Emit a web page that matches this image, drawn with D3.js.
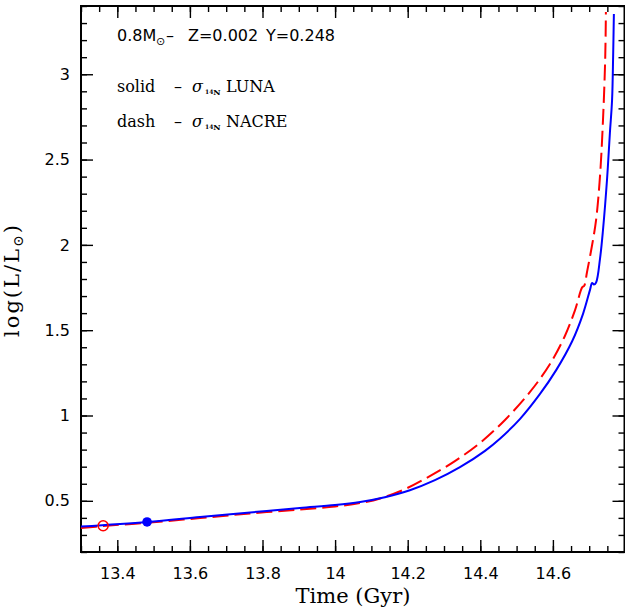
<!DOCTYPE html>
<html>
<head>
<meta charset="utf-8">
<script src="https://cdn.jsdelivr.net/npm/d3@7/dist/d3.min.js"></script>
<style>
  html, body { margin: 0; padding: 0; background: #fff; }
  svg { display: block; }
</style>
</head>
<body>
<svg id="chart" width="625" height="612"></svg>
<script>
// ---- Data ----
// LUNA (solid, blue): time in Gyr, log(L/Lsun)
const lunaTime = [13.300, 13.482, 13.628, 13.766, 13.903, 14.000, 14.069, 14.137, 14.206, 14.275,
                  14.344, 14.413, 14.454, 14.509, 14.564, 14.609, 14.653, 14.683, 14.702, 14.708,
                  14.713, 14.719, 14.730, 14.738, 14.749, 14.757, 14.763, 14.766, 14.768];
const lunaLogL = [0.349, 0.376, 0.405, 0.432, 0.458, 0.475, 0.493, 0.521, 0.562, 0.621,
                  0.697, 0.793, 0.864, 0.979, 1.125, 1.266, 1.435, 1.596, 1.735, 1.777,
                  1.768, 1.780, 1.923, 2.087, 2.380, 2.656, 2.849, 3.113, 3.353];
// NACRE (dashed, red)
const nacreTime = [13.300, 13.361, 13.490, 13.628, 13.766, 13.903, 14.000, 14.069, 14.124, 14.193,
                   14.261, 14.330, 14.399, 14.468, 14.537, 14.592, 14.633, 14.661, 14.681, 14.686,
                   14.694, 14.708, 14.719, 14.730, 14.738, 14.744, 14.746];
const nacreLogL = [0.341, 0.352, 0.373, 0.399, 0.426, 0.449, 0.467, 0.487, 0.514, 0.569,
                   0.645, 0.733, 0.839, 0.974, 1.138, 1.302, 1.466, 1.618, 1.752, 1.759,
                   1.841, 1.999, 2.146, 2.410, 2.732, 3.084, 3.365];
// Markers
const lunaMarker = [13.482, 0.376];   // filled blue circle
const nacreMarker = [13.361, 0.354];  // open red circle

// Axes
const xDomain = [13.3, 14.8];
const yDomain = [0.2, 3.4];
const xTicks = [13.4, 13.6, 13.8, 14, 14.2, 14.4, 14.6];
const yTicks = [0.5, 1, 1.5, 2, 2.5, 3];
const xMinorStep = 0.05;
const yMinorStep = 0.1;

// ---- Layout ----
const L = 81, R = 625.5, T = 6, B = 552;
const svg = d3.select("#chart");
const x = d3.scaleLinear().domain(xDomain).range([L, R]);
const y = d3.scaleLinear().domain(yDomain).range([B, T]);

const xMinor = d3.range(0, Math.round((xDomain[1] - xDomain[0]) / xMinorStep) + 1)
  .map(i => +(xDomain[0] + i * xMinorStep).toFixed(4));
const yMinor = d3.range(0, Math.round((yDomain[1] - yDomain[0]) / yMinorStep) + 1)
  .map(i => +(yDomain[0] + i * yMinorStep).toFixed(4));

const tickFont = "'DejaVu Sans', sans-serif";
const serif = "'DejaVu Serif', 'Liberation Serif', serif";

function styleAxis(g) {
  g.select(".domain").remove();
  g.selectAll(".tick line").attr("stroke", "#000").attr("stroke-width", 1.4);
  g.selectAll(".tick text").attr("fill", "#000").attr("font-family", tickFont).attr("font-size", 16);
}

// Bottom
svg.append("g").attr("transform", `translate(0,${B})`)
  .call(d3.axisBottom(x).tickValues(xMinor).tickSize(-6).tickFormat(""))
  .call(styleAxis);
svg.append("g").attr("transform", `translate(0,${B})`)
  .call(d3.axisBottom(x).tickValues(xTicks).tickSize(-12).tickPadding(16).tickFormat(d => String(d)))
  .call(styleAxis);
// Top
svg.append("g").attr("transform", `translate(0,${T})`)
  .call(d3.axisTop(x).tickValues(xMinor).tickSize(-6).tickFormat(""))
  .call(styleAxis);
svg.append("g").attr("transform", `translate(0,${T})`)
  .call(d3.axisTop(x).tickValues(xTicks).tickSize(-12).tickFormat(""))
  .call(styleAxis);
// Left
svg.append("g").attr("transform", `translate(${L},0)`)
  .call(d3.axisLeft(y).tickValues(yMinor).tickSize(-6).tickFormat(""))
  .call(styleAxis);
svg.append("g").attr("transform", `translate(${L},0)`)
  .call(d3.axisLeft(y).tickValues(yTicks).tickSize(-12).tickPadding(11).tickFormat(d => String(d)))
  .call(styleAxis);
// Right
svg.append("g").attr("transform", `translate(${R - 1},0)`)
  .call(d3.axisRight(y).tickValues(yMinor).tickSize(-6).tickFormat(""))
  .call(styleAxis);
svg.append("g").attr("transform", `translate(${R - 1},0)`)
  .call(d3.axisRight(y).tickValues(yTicks).tickSize(-12).tickFormat(""))
  .call(styleAxis);

// Frame
svg.append("rect").attr("x", L).attr("y", T).attr("width", R - 1 - L).attr("height", B - T)
  .attr("fill", "none").attr("stroke", "#000").attr("stroke-width", 2);

// ---- Curves ----
const line = d3.line().x(d => x(d[0])).y(d => y(d[1])).curve(d3.curveCatmullRom.alpha(0.5));
const luna = lunaTime.map((t, i) => [t, lunaLogL[i]]);
const nacre = nacreTime.map((t, i) => [t, nacreLogL[i]]);

const plot = svg.append("g");
plot.append("path").datum(nacre).attr("d", line)
  .attr("fill", "none").attr("stroke", "#ff0000").attr("stroke-width", 2)
  .attr("stroke-dasharray", "16,6");
plot.append("path").datum(luna).attr("d", line)
  .attr("fill", "none").attr("stroke", "#0000ff").attr("stroke-width", 2);

plot.append("circle").attr("cx", x(nacreMarker[0])).attr("cy", y(nacreMarker[1])).attr("r", 5)
  .attr("fill", "none").attr("stroke", "#ff0000").attr("stroke-width", 1.5);
plot.append("circle").attr("cx", x(lunaMarker[0])).attr("cy", y(lunaMarker[1])).attr("r", 4.8)
  .attr("fill", "#0000ff");

// ---- Axis titles ----
svg.append("text").attr("x", 353).attr("y", 603).attr("text-anchor", "middle")
  .attr("font-family", serif).attr("font-size", 21).attr("fill", "#000")
  .text("Time (Gyr)");

const yt = svg.append("text").attr("transform", "translate(19,280) rotate(-90)")
  .attr("text-anchor", "middle").attr("font-family", serif).attr("font-size", 21)
  .attr("letter-spacing", 2).attr("fill", "#000");
yt.append("tspan").text("log(L/L");
yt.append("tspan").attr("font-size", 14).attr("dy", 4).text("\u2299");
yt.append("tspan").attr("dy", -4).text(")");

// ---- Legend ----
const lg = svg.append("g").attr("fill", "#000");
const t1 = lg.append("text").attr("y", 41).attr("font-family", tickFont).attr("font-size", 16);
t1.append("tspan").attr("x", 117).text("0.8M");
t1.append("tspan").attr("x", 156).attr("dy", 4).attr("font-size", 11).text("\u2299");
t1.append("tspan").attr("x", 166).attr("dy", -4).text("\u2013");
t1.append("tspan").attr("x", 188).text("Z=0.002");
t1.append("tspan").attr("x", 266).text("Y=0.248");

function legendLine(yb, word, lib) {
  const t = lg.append("text").attr("y", yb).attr("font-family", serif).attr("font-size", 16);
  t.append("tspan").attr("x", 117).text(word);
  t.append("tspan").attr("x", 174).text("\u2013");
  t.append("tspan").attr("x", 192).attr("font-style", "italic").attr("font-size", 16).text("\u03c3");
  t.append("tspan").attr("x", 205).attr("dy", 2).attr("font-size", 6).attr("font-weight", "bold").text("14");
  t.append("tspan").attr("dy", 1).attr("font-size", 8).attr("font-weight", "bold").text("N");
  t.append("tspan").attr("x", 226).attr("dy", -3).text(lib);
}
legendLine(92, "solid", "LUNA");
legendLine(127, "dash", "NACRE");
</script>
</body>
</html>
